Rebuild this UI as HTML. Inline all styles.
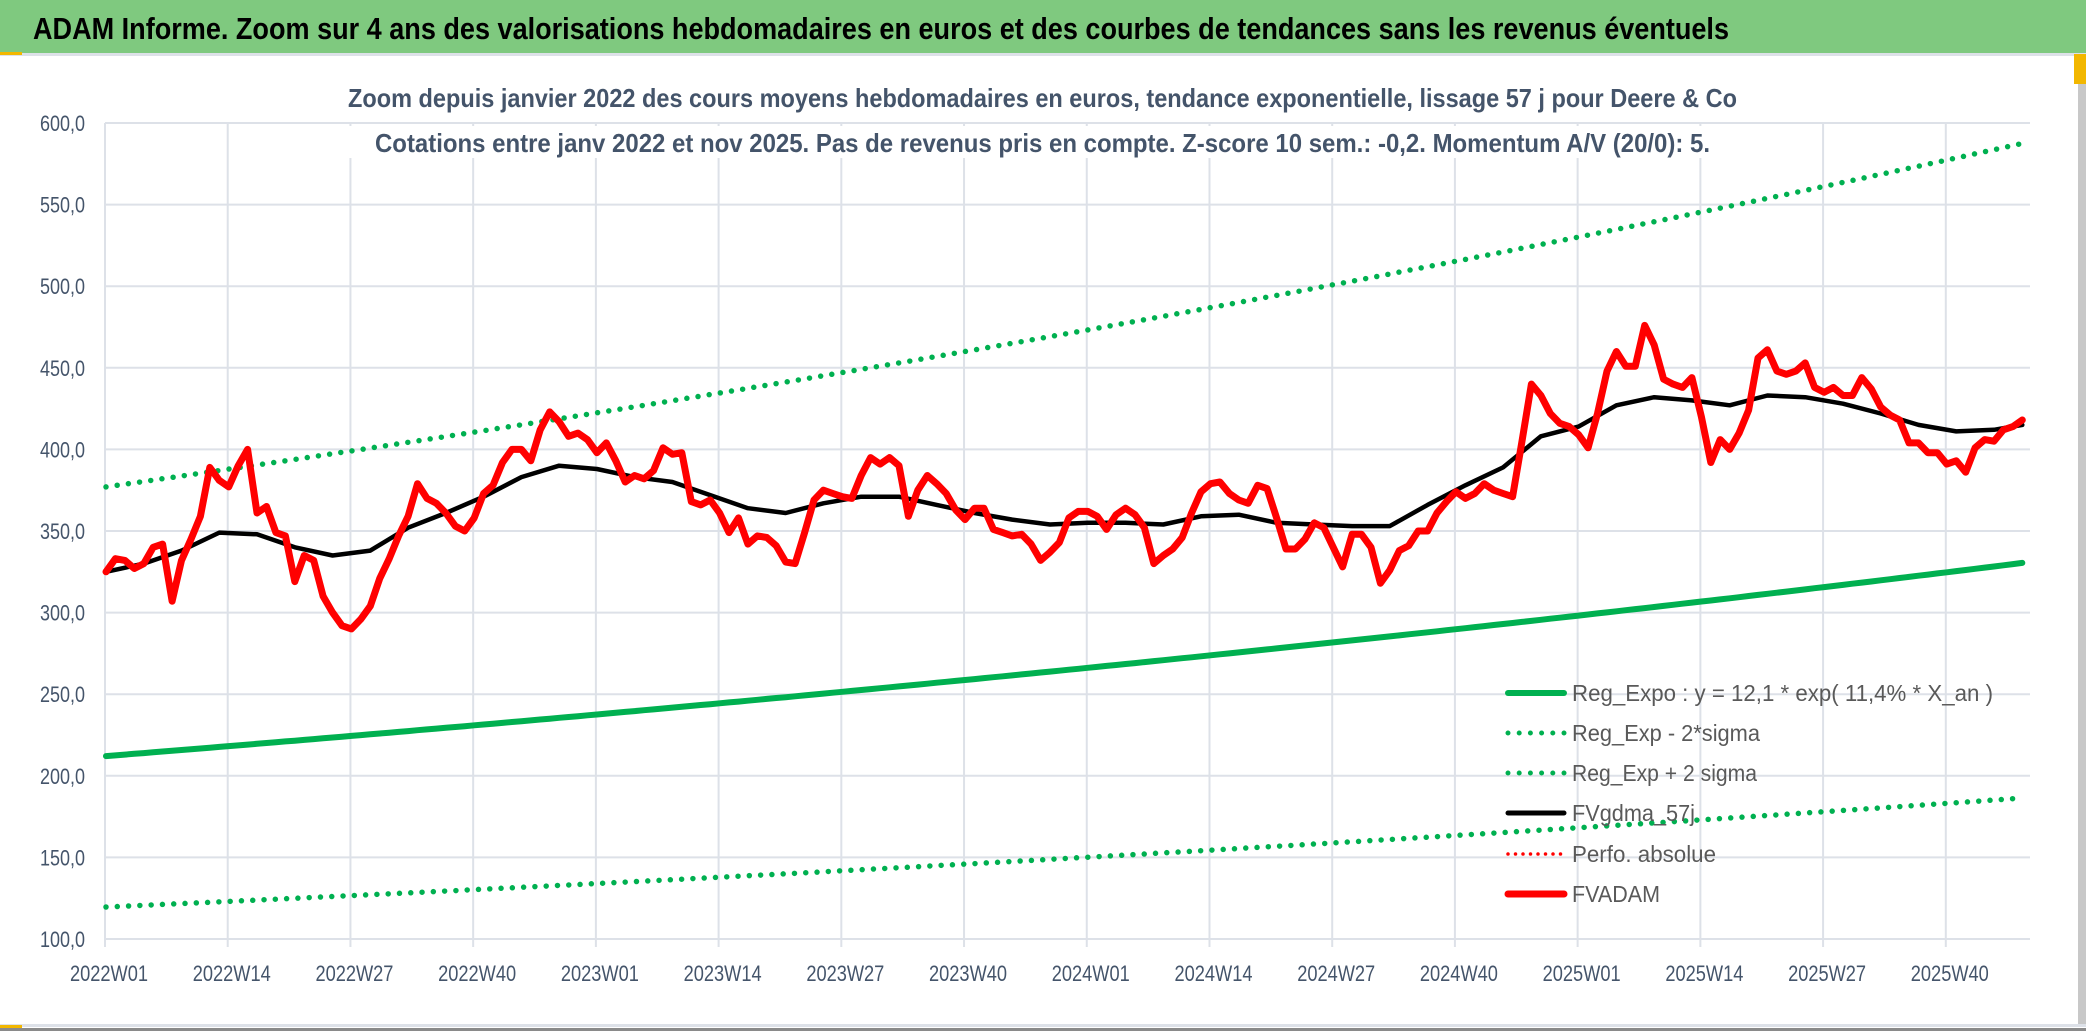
<!DOCTYPE html>
<html><head><meta charset="utf-8"><style>
html,body{margin:0;padding:0;background:#fff;}
svg{display:block;}
text{font-family:"Liberation Sans",sans-serif;}
</style></head><body>
<svg id="chart" width="2086" height="1031" viewBox="0 0 2086 1031" xmlns="http://www.w3.org/2000/svg">
<rect x="0" y="0" width="2086" height="1031" fill="#ffffff"/>
<rect x="0" y="0" width="2086" height="53" fill="#7fc97f"/>
<rect x="0" y="53" width="2086" height="3" fill="#dde1e8"/>
<rect x="0" y="52" width="22" height="3" fill="#f2b700"/>
<rect x="0" y="1024" width="2086" height="3" fill="#dde1e8"/>
<rect x="0" y="1028" width="2086" height="3" fill="#8a8a8a"/>
<rect x="0" y="1025" width="22" height="3" fill="#f2b700"/>
<rect x="2078" y="56" width="8" height="968" fill="#c8c8c8"/>
<rect x="2074" y="54" width="12" height="30" fill="#f2b700"/>
<text x="33" y="39" font-size="31" font-weight="bold" fill="#000" textLength="1696" lengthAdjust="spacingAndGlyphs">ADAM Informe. Zoom sur 4 ans des valorisations hebdomadaires en euros et des courbes de tendances sans les revenus éventuels</text>
<g id="grid"></g>
<g id="axes"></g>
<g id="series"></g>
<rect x="340" y="126" width="1400" height="32" fill="#ffffff"/>
<text x="348" y="107" font-size="26" font-weight="bold" fill="#44546a" textLength="1389" lengthAdjust="spacingAndGlyphs">Zoom depuis janvier 2022 des cours moyens hebdomadaires en euros, tendance exponentielle, lissage 57 j pour Deere &amp; Co</text>
<text x="375" y="152" font-size="26" font-weight="bold" fill="#44546a" textLength="1335" lengthAdjust="spacingAndGlyphs">Cotations entre janv 2022 et nov 2025. Pas de revenus pris en compte. Z-score 10 sem.: -0,2. Momentum A/V (20/0): 5.</text>
<g id="legend">
  <g>
    <line x1="1508" y1="693" x2="1564" y2="693" stroke="#00b050" stroke-width="6" stroke-linecap="round"/>
    <text x="1572" y="701" font-size="23" fill="#595959" textLength="421" lengthAdjust="spacingAndGlyphs">Reg_Expo : y = 12,1 * exp( 11,4% *  X_an )</text>
  </g>
  <g>
    <line x1="1508" y1="733" x2="1564" y2="733" stroke="#00b050" stroke-width="5" stroke-linecap="round" stroke-dasharray="0 11.2"/>
    <text x="1572" y="741" font-size="23" fill="#595959" textLength="188" lengthAdjust="spacingAndGlyphs">Reg_Exp - 2*sigma</text>
  </g>
  <g>
    <line x1="1508" y1="773" x2="1564" y2="773" stroke="#00b050" stroke-width="5" stroke-linecap="round" stroke-dasharray="0 11.2"/>
    <text x="1572" y="781" font-size="23" fill="#595959" textLength="185" lengthAdjust="spacingAndGlyphs">Reg_Exp + 2 sigma</text>
  </g>
  <g>
    <line x1="1508" y1="813" x2="1564" y2="813" stroke="#000" stroke-width="5" stroke-linecap="round"/>
    <text x="1572" y="821" font-size="23" fill="#595959" textLength="123" lengthAdjust="spacingAndGlyphs">FVgdma_57j</text>
  </g>
  <g>
    <line x1="1508" y1="854" x2="1564" y2="854" stroke="#ff0000" stroke-width="3.5" stroke-linecap="round" stroke-dasharray="0 7.5"/>
    <text x="1572" y="862" font-size="23" fill="#595959" textLength="144" lengthAdjust="spacingAndGlyphs">Perfo. absolue</text>
  </g>
  <g>
    <line x1="1508" y1="894" x2="1564" y2="894" stroke="#ff0000" stroke-width="7" stroke-linecap="round"/>
    <text x="1572" y="902" font-size="23" fill="#595959" textLength="88" lengthAdjust="spacingAndGlyphs">FVADAM</text>
  </g>
</g>
</svg>
<script>
// ---- data ----
const xTickLabels = ["2022W01","2022W14","2022W27","2022W40","2023W01","2023W14","2023W27","2023W40","2024W01","2024W14","2024W27","2024W40","2025W01","2025W14","2025W27","2025W40"];
const xTickWeekIdx = [0,13,26,39,52,65,78,91,104,117,130,143,156,169,182,195];
const yTicks = [100,150,200,250,300,350,400,450,500,550,600];
const yTickLabels = ["100,0","150,0","200,0","250,0","300,0","350,0","400,0","450,0","500,0","550,0","600,0"];
const fvadam = [325,333,332,327,330,340,342,307,332,345,359,389,381,377,390,400,361,365,349,347,319,335,332,310,300,292,290,296,304,321,333,347,359,379,370,367,361,353,350,358,373,378,392,400,400,393,412,423,417,408,410,406,398,
404,393,380,384,382,387,401,397,398,368,366,369,361,349,358,342,347,346,341,331,330,349,369,375,373,371,370,384,395,391,395,390,359,375,384,379,373,363,357,364,364,351,349,347,348,342,332,337,343,358,362,
362,359,351,360,364,360,352,330,335,339,346,361,374,379,380,373,369,367,378,376,358,339,339,345,355,352,340,328,348,348,340,318,326,338,341,350,350,361,368,374,370,373,379,375,373,371,405,440,433,422,
416,414,409,401,422,448,460,451,451,476,464,443,440,438,444,420,392,406,400,410,424,456,461,448,446,448,453,438,435,438,433,433,444,437,426,421,418,404,404,398,398,391,393,386,401,406,405,412,414,418];
const smaWeekIdx = [0,4,8,12,16,20,24,28,32,36,40,44,48,52,56,60,64,68,72,76,80,84,88,92,96,100,104,108,112,116,120,124,128,132,136,140,144,148,152,156,160,164,168,172,176,180,184,188,192,196,200,203];
const smaValues = [325,330,338,349,348,340,335,338,352,361,371,383,390,388,383,380,372,364,361,367,371,371,366,361,357,354,355,355,354,359,360,355,354,353,353,366,378,389,408,414,427,432,430,427,433,432,428,422,415,411,412,415];
const regCoef = [12.1];
const regRate = [0.114];
const regYearStart = [25.12];
const bandFactors = [1.778, 0.564];
const weeksPerYear = 52.18;

// ---- axes functions ----
const X0 = 106, WEEK = 9.44, GX0 = 105, GX1 = 2030;
const xOf = i => X0 + i * WEEK;
const xGrid = i => GX0 + i * WEEK;
const yOf = v => 939 - (v - 100) * 1.632;
const NS = "http://www.w3.org/2000/svg";
function mk(tag, attrs, parent){ const e=document.createElementNS(NS,tag); for(const k in attrs) e.setAttribute(k, attrs[k]); parent.appendChild(e); return e; }

const grid = document.getElementById('grid');
const axes = document.getElementById('axes');
const series = document.getElementById('series');

yTicks.forEach((v,k)=>{
  const l = mk('line',{x1:GX0,x2:GX1,y1:yOf(v),y2:yOf(v),stroke:'#dde1e8','stroke-width':2},grid);
  
  
  const t = mk('text',{x:85,y:yOf(v)+8,'font-size':22,fill:'#44546a','text-anchor':'end',textLength:45,lengthAdjust:'spacingAndGlyphs'},axes);
  t.textContent = yTickLabels[k];
  
  
});
xTickWeekIdx.forEach((wi,k)=>{
  const x = xGrid(wi);
  const l = mk('line',{x1:x,x2:x,y1:yOf(600),y2:947,stroke:'#dde1e8','stroke-width':2},grid);
  
  
  const t = mk('text',{x:x+4,y:981,'font-size':22,fill:'#44546a','text-anchor':'middle',textLength:78,lengthAdjust:'spacingAndGlyphs'},axes);
  t.textContent = xTickLabels[k];
  
  
});

function regVal(i){ return regCoef[0]*Math.exp(regRate[0]*(regYearStart[0]+i/weeksPerYear)); }
function pts(fx, fy, arr){ return arr.map((d,k)=>fx(d,k).toFixed(1)+','+fy(d,k).toFixed(1)).join(' '); }
const idx = fvadam.map((_,i)=>i);

const reg = mk('polyline',{points:pts(i=>xOf(i),i=>yOf(regVal(i)),idx),fill:'none',stroke:'#00b050','stroke-width':6,'stroke-linecap':'round','stroke-linejoin':'round'},series);



const up = mk('polyline',{points:pts(i=>xOf(i),i=>yOf(regVal(i)*bandFactors[0]),idx),fill:'none',stroke:'#00b050','stroke-width':5.5,'stroke-linecap':'round','stroke-dasharray':'0 11.3'},series);



const lo = mk('polyline',{points:pts(i=>xOf(i),i=>yOf(regVal(i)*bandFactors[1]),idx),fill:'none',stroke:'#00b050','stroke-width':5.5,'stroke-linecap':'round','stroke-dasharray':'0 11.3'},series);



const sma = mk('polyline',{points:pts((d,k)=>xOf(smaWeekIdx[k]),(d)=>yOf(d),smaValues),fill:'none',stroke:'#000','stroke-width':4.5,'stroke-linejoin':'round','stroke-linecap':'round'},series);



const red = mk('polyline',{points:pts((d,k)=>xOf(k),(d)=>yOf(d),fvadam),fill:'none',stroke:'#ff0000','stroke-width':7,'stroke-linejoin':'round','stroke-linecap':'round'},series);


</script>
</body></html>
